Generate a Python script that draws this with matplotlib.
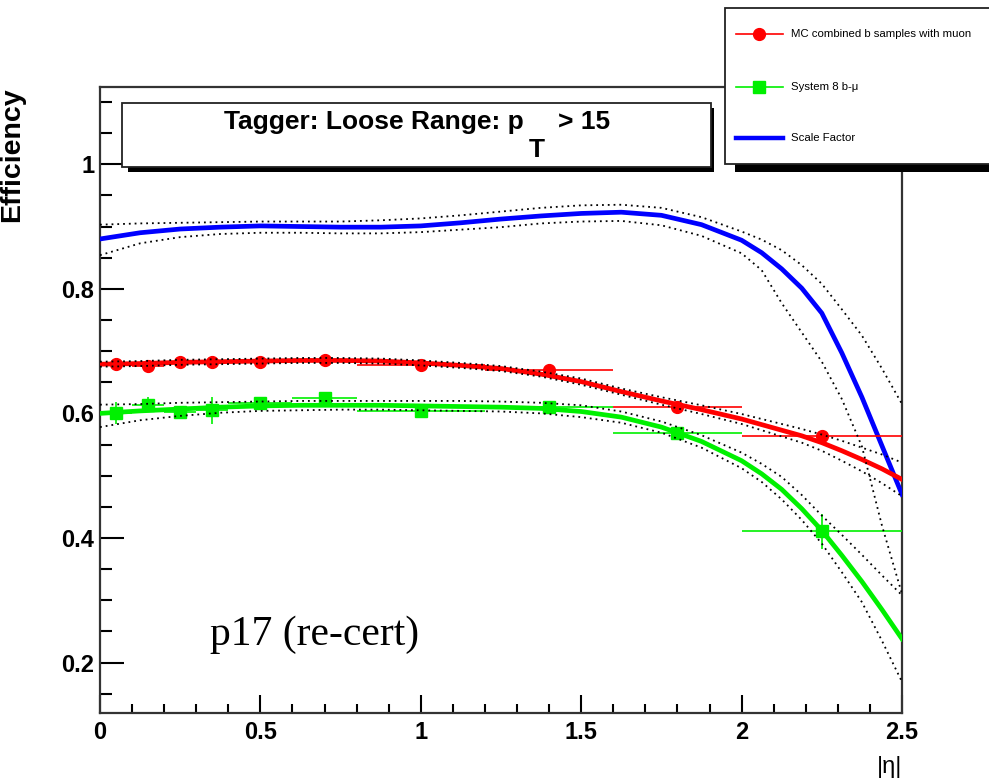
#!/usr/bin/env python3

import matplotlib
matplotlib.use('Agg')
from matplotlib import pyplot as plt
from matplotlib.patches import Rectangle
from matplotlib.lines import Line2D

# --- data ------------------------------------------------------------------

# measured points (|eta| bins)
bin_x = [0.05, 0.15, 0.25, 0.35, 0.5, 0.7, 1.0, 1.4, 1.8, 2.25]
bin_xerr = [0.05, 0.05, 0.05, 0.05, 0.1, 0.1, 0.2, 0.2, 0.2, 0.25]

mc_eff = [0.680, 0.676, 0.683, 0.683, 0.683, 0.685, 0.677, 0.669, 0.611, 0.563]
mc_err = [0.004, 0.004, 0.004, 0.004, 0.004, 0.004, 0.004, 0.004, 0.005, 0.006]

s8_eff = [0.601, 0.614, 0.602, 0.605, 0.616, 0.625, 0.604, 0.611, 0.569, 0.411]
s8_err = [0.018, 0.012, 0.006, 0.022, 0.008, 0.010, 0.006, 0.006, 0.006, 0.028]

# fitted curves and their error bands, sampled along |eta|
fit_x = [0.0, 0.125, 0.25, 0.375, 0.5, 0.625, 0.75, 0.875, 1.0, 1.125, 1.25,
         1.375, 1.5, 1.625, 1.75, 1.875, 2.0, 2.0625, 2.125, 2.1875, 2.25,
         2.3125, 2.375, 2.4375, 2.5]

mc_fit = [0.679, 0.680, 0.682, 0.683, 0.684, 0.685, 0.685, 0.684, 0.681, 0.677, 0.672,
          0.663, 0.651, 0.635, 0.620, 0.606, 0.591, 0.582, 0.573, 0.564, 0.553,
          0.540, 0.526, 0.511, 0.494]
mc_hi = [0.683, 0.684, 0.686, 0.687, 0.688, 0.689, 0.689, 0.688, 0.685, 0.681, 0.676,
         0.667, 0.656, 0.640, 0.626, 0.613, 0.599, 0.591, 0.583, 0.575, 0.566,
         0.556, 0.545, 0.534, 0.521]
mc_lo = [0.675, 0.676, 0.678, 0.679, 0.680, 0.681, 0.681, 0.680, 0.677, 0.673, 0.668,
         0.659, 0.646, 0.630, 0.614, 0.599, 0.583, 0.573, 0.563, 0.553, 0.540,
         0.524, 0.507, 0.488, 0.467]

s8_fit = [0.600, 0.604, 0.607, 0.610, 0.612, 0.613, 0.613, 0.613, 0.612, 0.611, 0.610,
          0.608, 0.603, 0.594, 0.578, 0.555, 0.524, 0.503, 0.478, 0.447, 0.412,
          0.372, 0.330, 0.285, 0.238]
s8_hi = [0.614, 0.615, 0.617, 0.618, 0.619, 0.620, 0.620, 0.620, 0.620, 0.620, 0.619,
         0.617, 0.613, 0.603, 0.587, 0.565, 0.537, 0.519, 0.498, 0.469, 0.436,
         0.405, 0.373, 0.340, 0.308]
s8_lo = [0.578, 0.589, 0.596, 0.601, 0.604, 0.605, 0.606, 0.606, 0.605, 0.604, 0.603,
         0.600, 0.594, 0.585, 0.569, 0.545, 0.512, 0.490, 0.462, 0.429, 0.391,
         0.345, 0.297, 0.235, 0.169]

sf_fit = [0.880, 0.890, 0.896, 0.899, 0.901, 0.900, 0.899, 0.899, 0.901, 0.906, 0.912,
          0.917, 0.921, 0.923, 0.918, 0.903, 0.878, 0.858, 0.832, 0.801, 0.761,
          0.697, 0.626, 0.548, 0.470]
sf_hi = [0.903, 0.905, 0.906, 0.907, 0.908, 0.908, 0.908, 0.910, 0.913, 0.918, 0.924,
         0.930, 0.934, 0.935, 0.930, 0.915, 0.892, 0.879, 0.862, 0.838, 0.808,
         0.767, 0.725, 0.672, 0.615]
sf_lo = [0.854, 0.873, 0.883, 0.888, 0.890, 0.890, 0.889, 0.889, 0.891, 0.895, 0.899,
         0.905, 0.908, 0.909, 0.902, 0.885, 0.857, 0.830, 0.777, 0.730, 0.683,
         0.623, 0.547, 0.420, 0.310]

x_ticks = [0, 0.5, 1, 1.5, 2, 2.5]
x_tick_labels = ["0", "0.5", "1", "1.5", "2", "2.5"]
y_ticks = [0.2, 0.4, 0.6, 0.8, 1.0]
y_tick_labels = ["0.2", "0.4", "0.6", "0.8", "1"]

legend_labels = ["MC combined b samples with muon", "System 8 b-\u03bc", "Scale Factor"]

RED = '#ff0000'
GREEN = '#00f000'
BLUE = '#0000ff'
DOT = (0, (1, 2.2))

W, H = 989, 780


def fx(px):
    return px / W


def fy(py):
    return 1 - py / H


plt.rcParams['font.family'] = ['Liberation Sans', 'DejaVu Sans']

fig = plt.figure(figsize=(W / 100, H / 100), dpi=100)
ax = fig.add_axes([fx(100), fy(713), fx(902) - fx(100), fy(87) - fy(713)])

# fits
ax.plot(fit_x, sf_fit, color=BLUE, lw=3.4, zorder=3)
ax.plot(fit_x, mc_fit, color=RED, lw=3.4, zorder=3)
ax.plot(fit_x, s8_fit, color=GREEN, lw=3.4, zorder=3)

# points
ax.errorbar(bin_x, mc_eff, xerr=bin_xerr, yerr=mc_err, fmt='o', color=RED,
            ms=8.5, elinewidth=1.2, capsize=0, zorder=4)
ax.errorbar(bin_x, s8_eff, xerr=bin_xerr, yerr=s8_err, fmt='s', color=GREEN,
            ms=8, elinewidth=1.2, capsize=0, zorder=4)

# error bands on the fits
for band in (sf_hi, sf_lo, mc_hi, mc_lo, s8_hi, s8_lo):
    ax.plot(fit_x, band, color='black', lw=1.3, ls=DOT, zorder=5)

ax.set_xlim(0, 2.5)
ax.set_ylim(0.119, 1.124)
ax.set_xticks(x_ticks, x_tick_labels, fontweight='bold', fontsize=17)
ax.set_yticks(y_ticks, y_tick_labels, fontweight='bold', fontsize=17)
ax.set_xticks([i / 10 for i in range(26)], minor=True)
ax.set_yticks([0.15 + i * 0.05 for i in range(20)], minor=True)
ax.tick_params(axis='y', which='major', direction='in', length=17, width=1.5, pad=4)
ax.tick_params(axis='y', which='minor', direction='in', length=8.6, width=1.5)
ax.tick_params(axis='x', which='major', direction='in', length=13, width=1.5, pad=6)
ax.tick_params(axis='x', which='minor', direction='in', length=6.5, width=1.5)
for s in ax.spines.values():
    s.set_linewidth(1.6)
    s.set_color('#333333')

# overlay in pixel coordinates for boxes and free text
ov = fig.add_axes([0, 0, 1, 1], zorder=10)
ov.set_xlim(0, W)
ov.set_ylim(H, 0)
ov.axis('off')

# title box with shadow
ov.add_patch(Rectangle((128, 108), 586, 64, facecolor='black', edgecolor='none'))
ov.add_patch(Rectangle((122, 103), 589, 64, facecolor='white', edgecolor='#222222', lw=1.3))
ov.text(524, 129, "Tagger: Loose Range: p", ha='right', va='baseline',
        fontsize=19, fontweight='bold')
ov.text(529, 157, "T", ha='left', va='baseline', fontsize=19, fontweight='bold')
ov.text(558, 129, "> 15", ha='left', va='baseline', fontsize=19, fontweight='bold')

# legend box with shadow
ov.add_patch(Rectangle((735, 14), 270, 158, facecolor='black', edgecolor='none', clip_on=False))
ov.add_patch(Rectangle((725, 8), 280, 156, facecolor='white', edgecolor='#222222', lw=1.3, clip_on=False))
leg_y = [34, 87, 138]
ov.add_line(Line2D([736, 783], [leg_y[0]] * 2, color=RED, lw=1.2))
ov.plot([759], [leg_y[0]], 'o', color=RED, ms=8.5)
ov.add_line(Line2D([736, 783], [leg_y[1]] * 2, color=GREEN, lw=1.2))
ov.plot([759], [leg_y[1]], 's', color=GREEN, ms=8)
ov.add_line(Line2D([736, 783], [leg_y[2]] * 2, color=BLUE, lw=3.2))
for yy, lab in zip(leg_y, legend_labels):
    ov.text(791, yy, lab, ha='left', va='center', fontsize=8.2)

# axis titles and note
ov.text(12, 87, "Efficiency", rotation=90, ha='center', va='top',
        fontsize=20.5, fontweight='bold')
ov.text(902, 778, "|\u03b7|", ha='right', va='bottom', fontsize=17)
ov.text(210, 645, "p17 (re-cert)", ha='left', va='baseline', fontsize=30,
        family=['Liberation Serif', 'DejaVu Serif'])

plt.savefig('out.png', dpi=100)
